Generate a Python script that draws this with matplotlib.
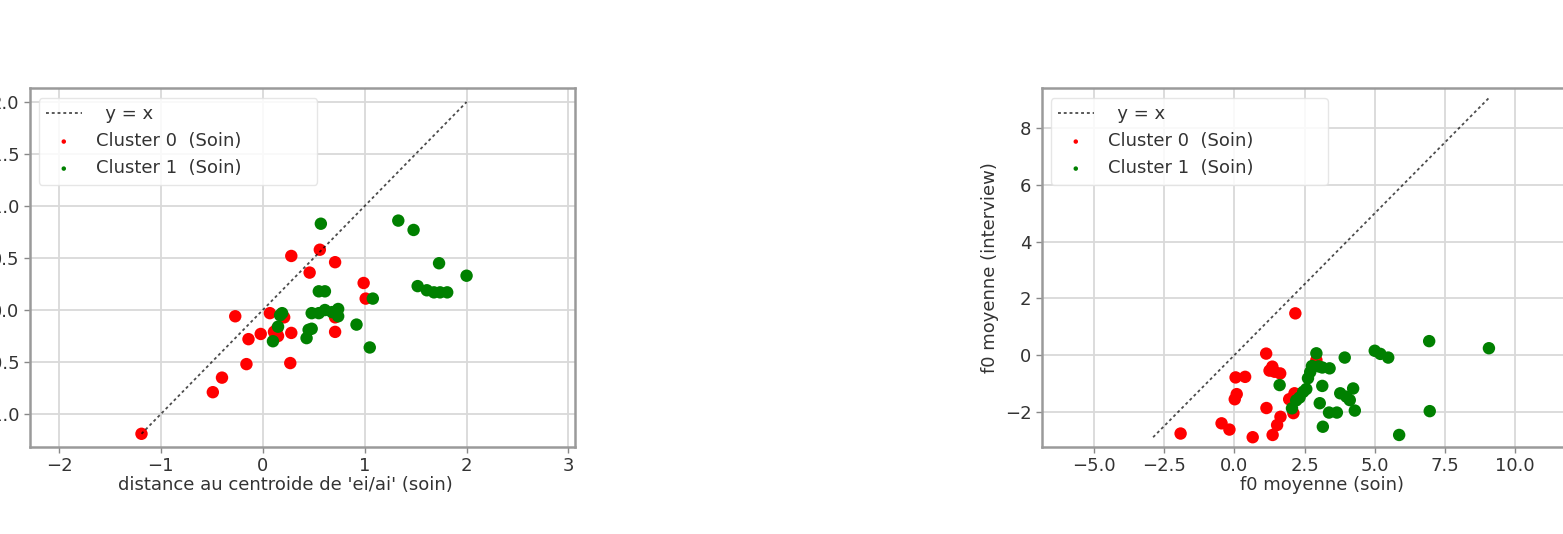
import matplotlib
matplotlib.use("Agg")
import matplotlib.pyplot as plt
import numpy as np

# ---------------- data ----------------
left_c0_x = [-1.19, -0.49, -0.40, -0.16, -0.14, -0.27, -0.02, 0.07, 0.11, 0.15, 0.14,
             0.21, 0.28, 0.27, 0.28, 0.46, 0.56, 0.71, 0.71, 0.71, 0.99, 1.01]
left_c0_y = [-1.19, -0.79, -0.65, -0.52, -0.28, -0.06, -0.23, -0.03, -0.21, -0.25, -0.18,
             -0.07, -0.22, -0.51, 0.52, 0.36, 0.58, 0.46, -0.21, -0.07, 0.26, 0.11]
left_c1_x = [0.57, 1.33, 1.48, 1.73, 2.00, 1.52, 1.61, 1.68, 1.74, 1.81, 0.55, 0.61, 1.08,
             0.92, 1.05, 0.48, 0.55, 0.61, 0.68, 0.74, 0.74, 0.45, 0.48, 0.43, 0.17, 0.15,
             0.10, 0.19]
left_c1_y = [0.83, 0.86, 0.77, 0.45, 0.33, 0.23, 0.19, 0.17, 0.17, 0.17, 0.18, 0.18, 0.11,
             -0.14, -0.36, -0.03, -0.03, 0.00, -0.02, 0.01, -0.06, -0.19, -0.18, -0.27,
             -0.05, -0.16, -0.30, -0.03]

right_c0_x = [-1.92, -0.46, -0.18, 0.65, 0.04, 0.38, 0.08, 0.01, 1.13, 1.25, 1.35, 1.43,
              1.63, 1.14, 1.64, 1.52, 1.36, 2.17, 1.95, 2.14, 2.10, 2.92]
right_c0_y = [-2.77, -2.41, -2.63, -2.90, -0.79, -0.77, -1.38, -1.56, 0.05, -0.55, -0.41,
              -0.59, -0.65, -1.87, -2.18, -2.47, -2.82, 1.47, -1.56, -1.35, -2.05, -0.18]
right_c1_x = [1.61, 2.05, 2.20, 2.32, 2.45, 2.56, 2.62, 2.70, 2.92, 2.76, 3.00, 3.13, 3.39,
              3.13, 3.04, 3.15, 3.37, 3.65, 3.93, 3.77, 3.99, 4.23, 4.11, 4.29, 5.00, 5.20,
              5.48, 6.94, 6.96, 5.87, 9.07]
right_c1_y = [-1.06, -1.88, -1.60, -1.50, -1.30, -1.20, -0.82, -0.60, 0.06, -0.39, -0.40,
              -0.44, -0.47, -1.09, -1.70, -2.53, -2.03, -2.03, -0.09, -1.35, -1.47, -1.18,
              -1.59, -1.96, 0.15, 0.04, -0.09, 0.49, -1.98, -2.82, 0.24]

label_line = " \u2009y = x"
label_c0 = "Cluster 0  (Soin)"
label_c1 = "Cluster 1  (Soin)"

left_xlabel = "distance au centroide de 'ei/ai' (soin)"
left_ylabel = "distance au centroide de 'ei/ai' (interview)"
right_xlabel = "f0 moyenne (soin)"
right_ylabel = "f0 moyenne (interview)"

# ---------------- style ----------------
plt.rcParams['font.family'] = ['DejaVu Sans']
plt.rcParams['font.size'] = 13
TXT = '#333333'

W, H = 1563, 534
fig = plt.figure(figsize=(W / 100, H / 100), dpi=100)


def px_axes(l, t, r, b):
    return fig.add_axes([l / W, 1 - b / H, (r - l) / W, (b - t) / H])


def draw(ax, c0x, c0y, c1x, c1y, xlim, ylim, xl, yl, xlab_x, leg_w):
    ax.set_facecolor('white')
    ax.grid(True, color='#d9d9d9', lw=1.3, zorder=0)
    ax.set_axisbelow(True)
    ax.scatter(c0x, c0y, s=80, color='red', edgecolors='none', zorder=2, label=label_c0)
    ax.scatter(c1x, c1y, s=80, color='green', edgecolors='none', zorder=3, label=label_c1)
    allv = np.concatenate([c0x, c0y, c1x, c1y])
    lo, hi = allv.min(), allv.max()
    ax.plot([lo, hi], [lo, hi], color='black', alpha=0.7, lw=1.3,
            ls=(0, (1.6, 1.6)), zorder=4, label=label_line)
    ax.set_xlim(*xlim)
    ax.set_ylim(*ylim)
    for s in ax.spines.values():
        s.set_color('#9a9a9a')
        s.set_linewidth(1.8)
    ax.tick_params(colors='#888888', labelcolor=TXT, labelsize=13, length=4, width=1)
    ax.set_xlabel(xl, color=TXT, fontsize=13)
    ax.set_ylabel(yl, color=TXT, fontsize=13)
    ax.xaxis.set_label_coords(xlab_x, -0.082)
    h, l = ax.get_legend_handles_labels()
    order = [2, 0, 1]
    leg = ax.legend([h[i] for i in order], [l[i] for i in order], loc='upper left',
                    bbox_to_anchor=(8.5 / ax.bbox.width, 0, leg_w, 0.972),
                    mode='expand', borderaxespad=0, markerscale=0.36,
                    scatterpoints=1, fontsize=13, framealpha=0.85,
                    edgecolor='#e2e2e2', handlelength=2.0)
    for t in leg.get_texts():
        t.set_color(TXT)


axL = px_axes(30, 88, 575, 447)
draw(axL, np.array(left_c0_x), np.array(left_c0_y), np.array(left_c1_x), np.array(left_c1_y),
     (-2.284, 3.064), (-1.317, 2.135), left_xlabel, left_ylabel, 0.468, 279 / 545)
axL.set_xticks([-2, -1, 0, 1, 2, 3])
axL.set_yticks([-1.0, -0.5, 0.0, 0.5, 1.0, 1.5, 2.0])

axR = px_axes(1042, 88, 1602, 447)
draw(axR, np.array(right_c0_x), np.array(right_c0_y), np.array(right_c1_x), np.array(right_c1_y),
     (-6.86, 13.1), (-3.245, 9.42), right_xlabel, right_ylabel, 0.5, 277 / 560)
axR.set_xticks([-5.0, -2.5, 0.0, 2.5, 5.0, 7.5, 10.0, 12.5])
axR.set_yticks([-2, 0, 2, 4, 6, 8])

fig.savefig("out.png", dpi=100, facecolor='white')
